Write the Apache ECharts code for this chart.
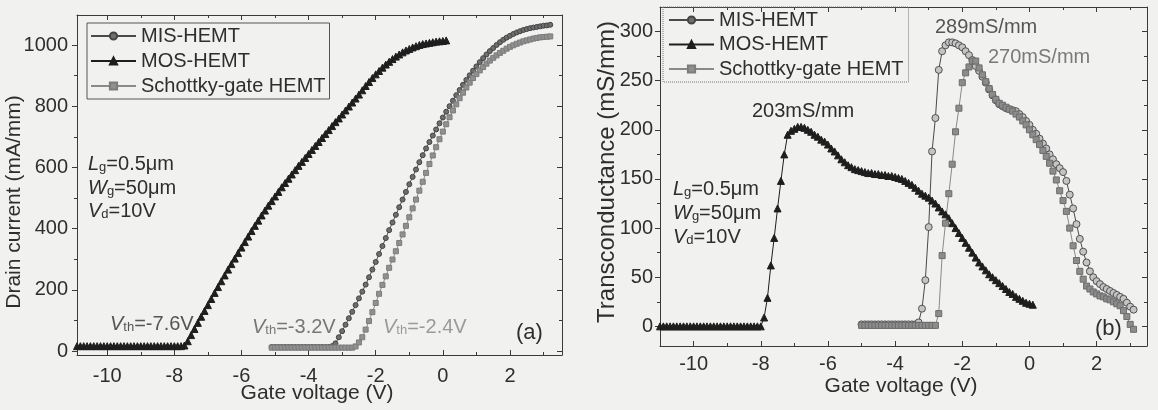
<!DOCTYPE html>
<html><head><meta charset="utf-8">
<script src="https://cdn.jsdelivr.net/npm/echarts/dist/echarts.min.js"></script>
<style>html,body{margin:0;padding:0;background:#f1f1ef;}#c{width:1158px;height:410px;}</style>
</head><body><div id="c"></div>
<script>
// ---------- Data (gate-voltage sweeps, 0.1 V step) ----------
const STEP = 0.1;
// Panel (a): drain current (mA/mm)
const startA_MOS = -10.9;
const idMOS = [16,16,16,16,16,16,16,16,16,16,16,16,16,16,16,16,16,16,16,16,16,16,16,16,16,16,16,16,16,16,16,16,
 18,32,52,72,92,112,131,150,170,190,
 209,228,247,266,284,302,320,338,356,374,
 392,409,426,443,459,475,490,505,520,535,
 549,563,577,591,605,618,631,644,657,670,
 683,696,709,722,735,748,760,773,786,799,
 812,825,838,852,866,879,892,904,915,926,
 936,945,954,962,969,976,982,987,992,996,
 1000,1003,1005,1007,1009,1011,1012,1013,1015];
const startA_MIS = -5.1;
const idMIS = [13,13,13,13,13,13,13,13,13,13,13,13,13,13,13,13,13,13,
 16,25,45,65,86,107,128,150,172,194,
 217,241,266,291,317,343,369,395,420,445,
 470,495,520,545,569,593,617,640,662,683,
 704,724,744,763,782,800,818,836,853,870,
 886,901,916,930,944,957,969,980,990,1000,
 1009,1017,1024,1030,1036,1041,1045,1049,1052,1055,
 1057,1059,1061,1063,1064,1066];
const startA_SCH = -5.1;
const idSCH = [11,11,11,11,11,11,11,11,11,11,11,11,11,11,11,11,11,11,11,11,11,11,11,11,11,
 15,28,45,70,98,127,157,187,216,244,
 272,299,326,353,381,409,437,466,495,524,
 553,582,611,639,666,692,717,741,764,786,
 806,826,844,861,877,892,905,917,928,939,
 949,958,966,974,981,988,994,999,1004,1008,
 1012,1015,1018,1021,1023,1025,1026,1027,1028];
// Panel (b): transconductance (mS/mm)
const startB_MOS = -11.0;
const gmMOS = [0,0,0,0,0,0,0,0,0,0,0,0,0,0,0,0,0,0,0,0,0,0,0,0,0,0,0,0,0,0,0,
 9,29,62,90,120,148,175,195,199,201,
 203,203,202,200,198,195,193,190,188,185,
 181,178,174,170,167,164,162,160,159,158,
 157,156,156,155,155,154,154,153,153,152,
 151,150,148,146,144,141,138,135,133,131,
 128,125,121,117,114,110,105,100,95,90,
 85,80,75,70,65,61,57,53,50,47,
 44,41,38,35,33,30,28,26,24,23,
 22];
const startB_MIS = -5.0;
const gmMIS = [2,2,2,2,2,2,2,2,2,2,2,2,2,2,2,2,2,
 4,18,47,101,178,212,261,280,286,289,
 289,288,286,284,280,276,271,265,260,254,
 248,241,235,230,226,224,222,221,220,219,
 216,213,209,205,200,196,191,186,181,175,
 170,165,161,157,148,134,120,104,89,76,
 65,56,50,46,43,40,38,36,34,32,
 30,28,24,20,17];
const startB_SCH = -5.0;
const gmSCH = [1,1,1,1,1,1,1,1,1,1,1,1,1,1,1,1,1,1,1,1,1,1,1,
 13,72,105,135,165,198,222,248,258,264,
 270,270,263,256,249,242,236,231,227,225,
 223,221,219,216,213,209,205,200,195,190,
 185,179,173,166,158,149,138,128,117,100,
 82,67,56,48,41,38,35,33,31,30,
 28,27,25,23,21,16,10,2,-3];

const names = ['MIS-HEMT','MOS-HEMT','Schottky-gate HEMT'];
const xTicksMajor = [-10,-8,-6,-4,-2,0,2];
const xTicksMinor = [-9,-7,-5,-3,-1,1,3];
const yTicksMajorA = [0,200,400,600,800,1000];
const yTicksMinorA = [100,300,500,700,900];
const yTicksMajorB = [0,50,100,150,200,250,300];
const yTicksMinorB = [25,75,125,175,225,275];

// ---------- Chart ----------
const FONT = '"Liberation Sans", Arial, Helvetica, sans-serif';
const TXT = '#2e2e2e';
const AX = {color:'#3a3a3a', width:1};
function pairs(start, arr){ return arr.map((v,i)=>[Math.round((start+i*STEP)*10)/10, v]); }

function axesFor(gi, xr, yr, yMaj, yMin, xMargin, yMargin, fs){
  const mk = (dim, pos, major, inside, ticks, labels, showLine, margin) => ({
    gridIndex: gi, type:'value', position: pos,
    min: dim==='x'?xr[0]:yr[0], max: dim==='x'?xr[1]:yr[1],
    axisLine:{show:showLine, onZero:false, lineStyle:AX},
    axisTick:{show:true, inside:inside, length: major?5:3, customValues:ticks, lineStyle:AX},
    axisLabel: labels ? {show:true, customValues:ticks, margin:margin, fontSize:fs, color:TXT, fontFamily:FONT,
                         formatter: v => String(v)} : {show:false},
    splitLine:{show:false}, minorTick:{show:false}, minorSplitLine:{show:false}
  });
  return {
    x:[ mk('x','bottom',true,true,xTicksMajor,true,true,xMargin),
        mk('x','bottom',false,true,xTicksMinor,false,false),
        mk('x','top',true,true,xTicksMajor,false,true),
        mk('x','top',false,true,xTicksMinor,false,false) ],
    y:[ mk('y','left',true,false,yMaj,true,true,yMargin),
        mk('y','left',false,false,yMin,false,false),
        mk('y','right',true,true,yMaj,false,true),
        mk('y','right',false,true,yMin,false,false) ]
  };
}
const axA = axesFor(0, [-10.9, 3.55], [-13, 1098], yTicksMajorA, yTicksMinorA, 11, 9, 20);
const axB = axesFor(1, [-11, 3.5], [-20, 325], yTicksMajorB, yTicksMinorB, 8, 7, 20);

function ser(name, gi, data, sym, size, fill, border, lineColor){
  return {type:'line', name:name, xAxisIndex:gi*4, yAxisIndex:gi*4, data:data,
    symbol:sym, symbolSize:size, showSymbol:true, showAllSymbol:true, clip:true,
    lineStyle:{width:1, color:lineColor},
    itemStyle:{color:fill, borderColor:border, borderWidth:1},
    emphasis:{disabled:true}, animation:false, z: 2};
}

function rt(x, y, main, sub, rest, color, fs){
  const base = {fontFamily:FONT, fontSize:fs, fill:color, verticalAlign:'bottom'};
  return {type:'text', x:x, y:y, silent:true, style:{
    text:'{i|'+main+'}{s|'+sub+'}{n|'+rest+'}', align:'left', verticalAlign:'middle',
    font: fs+'px '+FONT, fill:color,
    rich:{ i:Object.assign({}, base, {fontStyle:'italic'}),
           s:Object.assign({}, base, {fontSize:Math.round(fs*0.65)}),
           n:Object.assign({}, base) }
  }};
}
function tx(x, y, text, color, fs, align, rot){
  return {type:'text', x:x, y:y, rotation: rot||0, silent:true, style:{text:text, font: fs+'px '+FONT,
    fill:color, align:align||'left', verticalAlign:'middle'}};
}

const legendCommon = {orient:'vertical', itemWidth:45, itemHeight:9, itemGap:5,
  textStyle:{fontFamily:FONT, fontSize:20, color:TXT, lineHeight:20},
  borderWidth:1, backgroundColor:'transparent', data:names, selectedMode:false};

const option = {
  backgroundColor:'#f1f1ef',
  animation:false,
  grid:[ {left:77, top:15, width:485, height:340, outerBoundsMode:'none', containLabel:false},
         {left:660, top:7, width:487, height:339, outerBoundsMode:'none', containLabel:false} ],
  xAxis: axA.x.concat(axB.x),
  yAxis: axA.y.concat(axB.y),
  legend:[ Object.assign({}, legendCommon, {left:87, top:23, padding:[3,4,3,3], borderColor:'#555'}),
           Object.assign({}, legendCommon, {left:663, top:7, itemGap:4.5, padding:[3,5,3,5], borderColor:'#777', borderType:'dotted'}) ],
  series:[
    ser('MIS-HEMT', 0, pairs(startA_MIS, idMIS), 'circle', 5, '#6e6e6e', '#444', '#4a4a4a'),
    ser('MOS-HEMT', 0, pairs(startA_MOS, idMOS), 'triangle', 7, '#1e1e1e', '#1e1e1e', '#1e1e1e'),
    ser('Schottky-gate HEMT', 0, pairs(startA_SCH, idSCH), 'rect', 5, '#909090', '#7c7c7c', '#8a8a8a'),
    ser('MIS-HEMT', 1, pairs(startB_MIS, gmMIS), 'circle', 7, '#c4c4c4', '#505050', '#4a4a4a'),
    ser('MOS-HEMT', 1, pairs(startB_MOS, gmMOS), 'triangle', 7, '#1e1e1e', '#1e1e1e', '#1e1e1e'),
    ser('Schottky-gate HEMT', 1, pairs(startB_SCH, gmSCH), 'rect', 6, '#8c8c8c', '#6c6c6c', '#8a8a8a')
  ],
  graphic:[
    tx(14, 202, 'Drain current (mA/mm)', TXT, 21, 'center', Math.PI/2),
    tx(317, 393, 'Gate voltage (V)', TXT, 21, 'center'),
    tx(607, 172, 'Transconductance (mS/mm)', TXT, 24, 'center', Math.PI/2),
    tx(901, 386, 'Gate voltage (V)', TXT, 21, 'center'),
    rt(88, 164, 'L', 'g', '=0.5μm', TXT, 20),
    rt(88, 188, 'W', 'g', '=50μm', TXT, 20),
    rt(88, 211, 'V', 'd', '=10V', TXT, 20),
    rt(110, 324, 'V', 'th', '=-7.6V', '#555', 20),
    rt(252, 327, 'V', 'th', '=-3.2V', '#777', 20),
    rt(383, 327, 'V', 'th', '=-2.4V', '#9a9a9a', 20),
    tx(516, 333, '(a)', TXT, 22, 'left'),
    rt(673, 189, 'L', 'g', '=0.5μm', TXT, 20),
    rt(673, 213, 'W', 'g', '=50μm', TXT, 20),
    rt(673, 237, 'V', 'd', '=10V', TXT, 20),
    tx(752, 111, '203mS/mm', TXT, 20, 'left'),
    tx(935, 27, '289mS/mm', '#555', 20, 'left'),
    tx(988, 57, '270mS/mm', '#7a7a7a', 20, 'left'),
    tx(1095, 329, '(b)', TXT, 22, 'left')
  ]
};
const chart = echarts.init(document.getElementById('c'));
chart.setOption(option);
</script></body></html>
